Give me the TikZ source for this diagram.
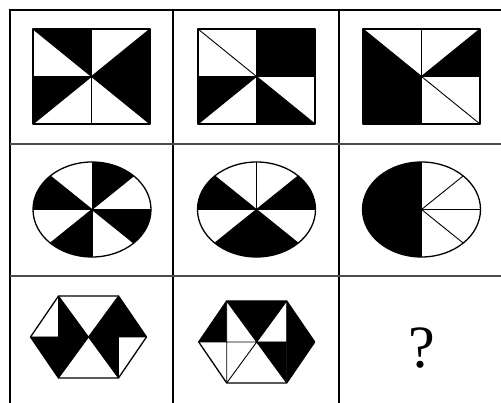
\documentclass[tikz,border=0pt]{standalone}
\usepackage{fontspec}
\usepackage{tikz}
\usetikzlibrary{calc}
\newfontfamily\qmfont{Liberation Serif}

\begin{document}
\begin{tikzpicture}[x=1pt,y=1pt,
  gridline/.style={line width=1.4pt},
  rowline/.style={line width=1.1pt,black!70},
  figline/.style={line width=0.9pt,line join=round},
  outline/.style={line width=1.3pt,line join=round},
  blk/.style={fill=black}]
\useasboundingbox (0,0) rectangle (501,403);
% table lines
\draw[gridline] (10,0) -- (10,393) -- (501,393);
\foreach \x in {173,339} \draw[gridline] (\x,0) -- (\x,393);
\foreach \y in {259,127} \draw[rowline] (10,\y) -- (501,\y);

% row 1: rectangles, eight triangles round the centre
\foreach \cx/\blist in {91.5/{0,2,3,6},256.5/{1,2,4,6},421.5/{2,5,6,7}}{
  \begin{scope}[shift={(\cx,326.5)}]
    \foreach \i/\px/\py in {0/-58.5/47.5,1/0/47.5,2/58.5/47.5,3/58.5/0,
                            4/58.5/-47.5,5/0/-47.5,6/-58.5/-47.5,7/-58.5/0}
      \coordinate (r\i) at (\px,\py);
    \foreach \k in \blist {
      \pgfmathtruncatemacro\n{mod(\k+1,8)}
      \fill[blk] (0,0) -- (r\k) -- (r\n) -- cycle;}
    \draw[figline] (r0) -- (r4) (r2) -- (r6) (r1) -- (r5) (r3) -- (r7);
    \draw[outline] (r0) rectangle (r4);
  \end{scope}}

% row 2: ellipses, eight sectors
\foreach \cx/\blist in {92/{45,135,225,315},256.5/{0,135,225,270},421.5/{90,135,180,225}}{
  \begin{scope}[shift={(\cx,193.5)}]
    \foreach \a in \blist
      \fill[blk] (0,0) -- (\a:59 and 47.5)
        arc[start angle=\a,delta angle=45,x radius=59,y radius=47.5] -- cycle;
    \foreach \a in {0,45,...,315} \draw[figline] (0,0) -- (\a:59 and 47.5);
    \draw[outline] (0,0) ellipse[x radius=59,y radius=47.5];
  \end{scope}}

% row 3: hexagons
\foreach \cx/\cy/\blist in {88.5/66/{L/P/BL,TL/C/P,P/C/BL,TR/Q/C,C/Q/BR,TR/R/Q},
                            256.7/61/{L/TL/P,TL/TR/C,C/Q/BR,TR/R/Q,Q/R/BR}}{
  \begin{scope}[shift={(\cx,\cy)}]
    \coordinate (C) at (0,0);
    \coordinate (L) at (-58,0);   \coordinate (R) at (58,0);
    \coordinate (TL) at (-30,41); \coordinate (TR) at (30,41);
    \coordinate (BL) at (-30,-41);\coordinate (BR) at (30,-41);
    \coordinate (P) at (-30,0);   \coordinate (Q) at (30,0);
    \foreach \u/\v/\w in \blist \fill[blk] (\u) -- (\v) -- (\w) -- cycle;
    \draw[figline] (TL) -- (BL) (TR) -- (BR) (L) -- (R) (TL) -- (BR) (TR) -- (BL);
    \draw[outline] (L) -- (TL) -- (TR) -- (R) -- (BR) -- (BL) -- cycle;
  \end{scope}}

\node[font=\qmfont\fontsize{60}{64}\selectfont,inner sep=0pt] (qm) at (421.5,55) {?};
\end{tikzpicture}
\end{document}
